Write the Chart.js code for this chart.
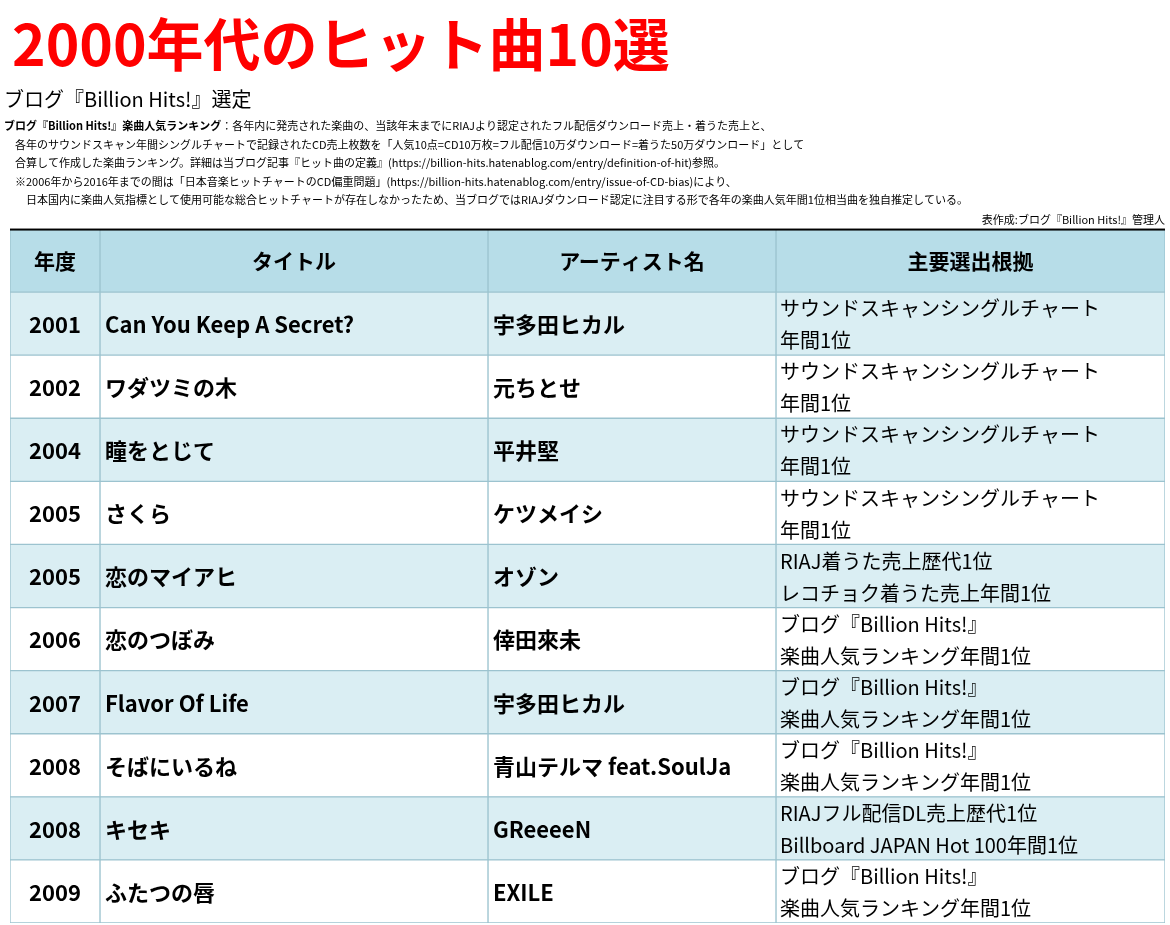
<!DOCTYPE html>
<html><head><meta charset="utf-8">
<script src="https://cdn.jsdelivr.net/npm/chart.js@4"></script>
<style>body{margin:0;background:#fff}#wrap{width:1170px;height:925px;position:relative}</style>
</head><body><div id="wrap"><canvas id="tbl"></canvas></div>
<script>
const headers = ["年度", "タイトル", "アーティスト名", "主要選出根拠"];
const years = ["2001","2002","2004","2005","2005","2006","2007","2008","2008","2009"];
const titles = ["Can You Keep A Secret?","ワダツミの木","瞳をとじて","さくら","恋のマイアヒ","恋のつぼみ","Flavor Of Life","そばにいるね","キセキ","ふたつの唇"];
const artists = ["宇多田ヒカル","元ちとせ","平井堅","ケツメイシ","オゾン","倖田來未","宇多田ヒカル","青山テルマ feat.SoulJa","GReeeeN","EXILE"];
const basis = [
  ["サウンドスキャンシングルチャート","年間1位"],
  ["サウンドスキャンシングルチャート","年間1位"],
  ["サウンドスキャンシングルチャート","年間1位"],
  ["サウンドスキャンシングルチャート","年間1位"],
  ["RIAJ着うた売上歴代1位","レコチョク着うた売上年間1位"],
  ["ブログ『Billion Hits!』","楽曲人気ランキング年間1位"],
  ["ブログ『Billion Hits!』","楽曲人気ランキング年間1位"],
  ["ブログ『Billion Hits!』","楽曲人気ランキング年間1位"],
  ["RIAJフル配信DL売上歴代1位","Billboard JAPAN Hot 100年間1位"],
  ["ブログ『Billion Hits!』","楽曲人気ランキング年間1位"]
];
const notes = [
  "ブログ『Billion Hits!』楽曲人気ランキング：各年内に発売された楽曲の、当該年末までにRIAJより認定されたフル配信ダウンロード売上・着うた売上と、",
  "　各年のサウンドスキャン年間シングルチャートで記録されたCD売上枚数を「人気10点=CD10万枚=フル配信10万ダウンロード=着うた50万ダウンロード」として",
  "　合算して作成した楽曲ランキング。詳細は当ブログ記事『ヒット曲の定義』(https://billion-hits.hatenablog.com/entry/definition-of-hit)参照。",
  "　※2006年から2016年までの間は「日本音楽ヒットチャートのCD偏重問題」(https://billion-hits.hatenablog.com/entry/issue-of-CD-bias)により、",
  "　　日本国内に楽曲人気指標として使用可能な総合ヒットチャートが存在しなかったため、当ブログではRIAJダウンロード認定に注目する形で各年の楽曲人気年間1位相当曲を独自推定している。"
];

const rows = ["header"].concat(years.map((y, i) => "r" + i));
const colW = [90, 388, 288, 389];
const FONT = '"Noto Sans CJK JP", "Noto Sans", sans-serif';
const rowColor = i => i === 0 ? "#b7dde8" : (i % 2 === 1 ? "#daeef3" : "#ffffff");

const datasets = colW.map((w, c) => ({
  data: rows.map(() => w),
  backgroundColor: rows.map((r, i) => rowColor(i)),
  borderColor: "#9cc3cf",
  borderWidth: 1,
  borderSkipped: false,
  categoryPercentage: 1,
  barPercentage: 1
}));

const textPlugin = {
  id: "tableText",
  afterDatasetsDraw(chart) {
    const ctx = chart.ctx, xs = chart.scales.x, ys = chart.scales.y;
    const edges = [0];
    colW.forEach(w => edges.push(edges[edges.length - 1] + w));
    const px = v => xs.getPixelForValue(v);
    ctx.save();
    // titles
    ctx.fillStyle = "#ff0000";
    ctx.font = "bold 57px " + FONT;
    ctx.textBaseline = "alphabetic";
    ctx.fillText("2000年代のヒット曲10選", 12, 66);
    ctx.fillStyle = "#000";
    ctx.font = "20px " + FONT;
    ctx.fillText("ブログ『Billion Hits!』選定", 4, 107);
    ctx.font = "11px " + FONT;
    notes.forEach((n, i) => {
      if (i === 0) {
        ctx.font = "bold 11px " + FONT;
        const head = "ブログ『Billion Hits!』楽曲人気ランキング";
        ctx.fillText(head, 4, 130);
        const w = ctx.measureText(head).width;
        ctx.font = "11px " + FONT;
        ctx.fillText(n.slice(head.length), 4 + w, 130);
      } else ctx.fillText(n, 4, 130 + i * 18.5);
    });
    ctx.textAlign = "right";
    ctx.fillText("表作成:ブログ『Billion Hits!』管理人", 1165, 224);
    // top thick line
    ctx.fillStyle = "#000";
    ctx.fillRect(px(0), ys.getPixelForValue(0) - 32, px(1155) - px(0), 2);
    // header
    const hy = ys.getPixelForValue(0);
    ctx.textAlign = "center";
    ctx.textBaseline = "middle";
    ctx.font = "bold 21px " + FONT;
    headers.forEach((h, c) => ctx.fillText(h, (px(edges[c]) + px(edges[c + 1])) / 2, hy));
    // body
    years.forEach((y, i) => {
      const cy = ys.getPixelForValue(i + 1);
      ctx.textAlign = "center";
      ctx.font = "bold 22px " + FONT;
      ctx.fillText(y, (px(edges[0]) + px(edges[1])) / 2, cy + 1);
      ctx.textAlign = "left";
      ctx.fillText(titles[i], px(edges[1]) + 5, cy + 1);
      ctx.fillText(artists[i], px(edges[2]) + 5, cy + 1);
      ctx.font = "20px " + FONT;
      ctx.fillText(basis[i][0], px(edges[3]) + 4, cy - 15);
      ctx.fillText(basis[i][1], px(edges[3]) + 4, cy + 17);
    });
    ctx.restore();
  }
};

new Chart(document.getElementById("tbl"), {
  type: "bar",
  data: { labels: rows, datasets: datasets },
  options: {
    indexAxis: "y",
    responsive: true,
    maintainAspectRatio: false,
    animation: false,
    events: [],
    layout: { padding: { top: 229, left: 10, right: 5, bottom: 2 } },
    plugins: { legend: { display: false }, tooltip: { enabled: false } },
    scales: {
      x: { stacked: true, min: 0, max: 1155, display: false },
      y: { stacked: true, display: false }
    }
  },
  plugins: [textPlugin]
});
</script></body></html>
